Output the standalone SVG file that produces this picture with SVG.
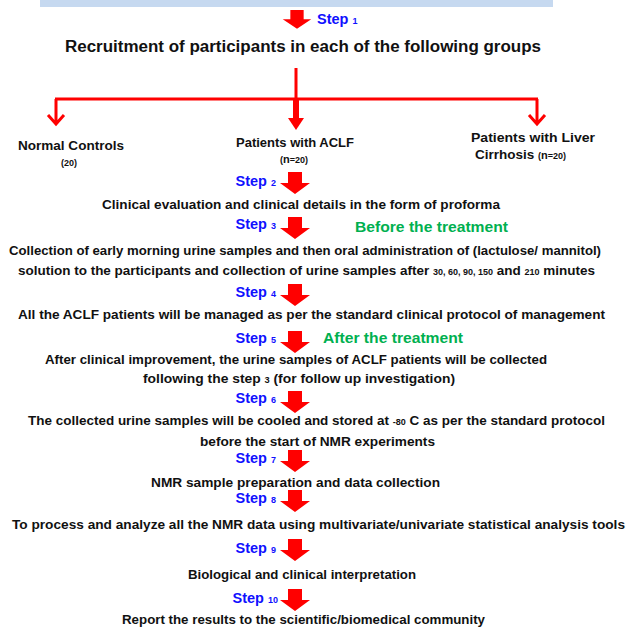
<svg xmlns="http://www.w3.org/2000/svg" width="630" height="628" viewBox="0 0 630 628">
<defs>
<style>
text{font-family:"Liberation Sans",Arial,sans-serif;font-weight:bold;}
.t{font-size:13.5px;fill:#111;}
.ti{font-size:16px;fill:#111;}
.st{font-size:14.5px;fill:#1010ff;}
.sn{font-size:9px;}
.sm{font-size:9px;}
.gr{font-size:14.5px;fill:#00b050;}
.ln{fill:none;stroke:#ff0000;stroke-width:3;}
</style>
<path id="blk" d="M-7,0 H7 V11 H15 L0,22 L-15,11 H-7 Z" fill="#ff0000"/>
</defs>
<rect x="40" y="0" width="513" height="7" fill="#c6d9f0"/>
<g id="connectors">
<use href="#blk" transform="translate(297,10) scale(0.95,0.85)"/>
<path class="ln" d="M296,68 V99 M55,99 H538"/>
<path class="ln" d="M56,99 V124 M48,115 L56,124 L64,115"/>
<path class="ln" d="M537,99 V124 M529,115 L537,124 L545,115"/>
<rect x="293" y="99" width="6" height="20" fill="#ff0000"/>
<path d="M288,118 H304 L296,130 Z" fill="#ff0000"/>
<use href="#blk" transform="translate(295,172)"/>
<use href="#blk" transform="translate(295,217)"/>
<use href="#blk" transform="translate(295,284)"/>
<use href="#blk" transform="translate(295,331)"/>
<use href="#blk" transform="translate(295,391)"/>
<use href="#blk" transform="translate(295,450)"/>
<use href="#blk" transform="translate(295,490)"/>
<use href="#blk" transform="translate(295,539)"/>
<use href="#blk" transform="translate(295,589)"/>
</g>
<g id="step-labels">
<text class="st" x="317" y="24">Step <tspan class="sn">1</tspan></text>
<text class="st" x="276" y="186" text-anchor="end">Step <tspan class="sn">2</tspan></text>
<text class="st" x="276" y="229" text-anchor="end">Step <tspan class="sn">3</tspan></text>
<text class="st" x="276" y="297" text-anchor="end">Step <tspan class="sn">4</tspan></text>
<text class="st" x="276" y="343" text-anchor="end">Step <tspan class="sn">5</tspan></text>
<text class="st" x="276" y="403" text-anchor="end">Step <tspan class="sn">6</tspan></text>
<text class="st" x="276" y="463" text-anchor="end">Step <tspan class="sn">7</tspan></text>
<text class="st" x="276" y="503" text-anchor="end">Step <tspan class="sn">8</tspan></text>
<text class="st" x="276" y="553" text-anchor="end">Step <tspan class="sn">9</tspan></text>
<text class="st" x="278" y="603" text-anchor="end">Step <tspan class="sn">10</tspan></text>
<text class="gr" x="355" y="232" textLength="153" lengthAdjust="spacingAndGlyphs">Before the treatment</text>
<text class="gr" x="323" y="343" textLength="140" lengthAdjust="spacingAndGlyphs">After the treatment</text>
</g>
<g id="recruitment">
<text class="ti" x="65" y="52" textLength="476" lengthAdjust="spacingAndGlyphs">Recruitment of participants in each of the following groups</text>
</g>
<g id="normal-controls">
<text class="t" x="18" y="150" textLength="106" lengthAdjust="spacingAndGlyphs">Normal Controls</text>
<text class="t sm" x="69" y="166" text-anchor="middle">(20)</text>
</g>
<g id="aclf">
<text class="t" x="236" y="147" textLength="118" lengthAdjust="spacingAndGlyphs">Patients with ACLF</text>
<text class="t sm" x="294" y="163" text-anchor="middle">(<tspan font-size="11">n</tspan>=20)</text>
</g>
<g id="cirrhosis">
<text class="t" x="471" y="142" textLength="124" lengthAdjust="spacingAndGlyphs">Patients with Liver</text>
<text class="t" x="475" y="159">Cirrhosis <tspan class="sm">(</tspan><tspan font-size="11">n</tspan><tspan class="sm">=20)</tspan></text>
</g>
<g id="step2">
<text class="t" x="102" y="209" textLength="398" lengthAdjust="spacingAndGlyphs">Clinical evaluation and clinical details in the form of proforma</text>
</g>
<g id="step3">
<text class="t" x="9" y="255" textLength="592" lengthAdjust="spacingAndGlyphs">Collection of early morning urine samples and then oral administration of (lactulose/ mannitol)</text>
<text class="t" x="18" y="275" textLength="577" lengthAdjust="spacingAndGlyphs">solution to the participants and collection of urine samples after <tspan class="sm">30, 60, 90, 150</tspan> and <tspan class="sm">210</tspan> minutes</text>
</g>
<g id="step4">
<text class="t" x="18" y="319" textLength="587" lengthAdjust="spacingAndGlyphs">All the ACLF patients will be managed as per the standard clinical protocol of management</text>
</g>
<g id="step5">
<text class="t" x="45" y="364" textLength="502" lengthAdjust="spacingAndGlyphs">After clinical improvement, the urine samples of ACLF patients will be collected</text>
<text class="t" x="143" y="383" textLength="312" lengthAdjust="spacingAndGlyphs">following the step <tspan class="sm">3</tspan> (for follow up investigation)</text>
</g>
<g id="step6">
<text class="t" x="28" y="425" textLength="577" lengthAdjust="spacingAndGlyphs">The collected urine samples will be cooled and stored at <tspan class="sm">-80</tspan> C as per the standard protocol</text>
<text class="t" x="200" y="446" textLength="235" lengthAdjust="spacingAndGlyphs">before the start of NMR experiments</text>
</g>
<g id="step7">
<text class="t" x="151" y="487" textLength="289" lengthAdjust="spacingAndGlyphs">NMR sample preparation and data collection</text>
</g>
<g id="step8">
<text class="t" x="12" y="529" textLength="613" lengthAdjust="spacingAndGlyphs">To process and analyze all the NMR data using multivariate/univariate statistical analysis tools</text>
</g>
<g id="step9">
<text class="t" x="188" y="579" textLength="228" lengthAdjust="spacingAndGlyphs">Biological and clinical interpretation</text>
</g>
<g id="step10">
<text class="t" x="122" y="624" textLength="363" lengthAdjust="spacingAndGlyphs">Report the results to the scientific/biomedical community</text>
</g>
</svg>
